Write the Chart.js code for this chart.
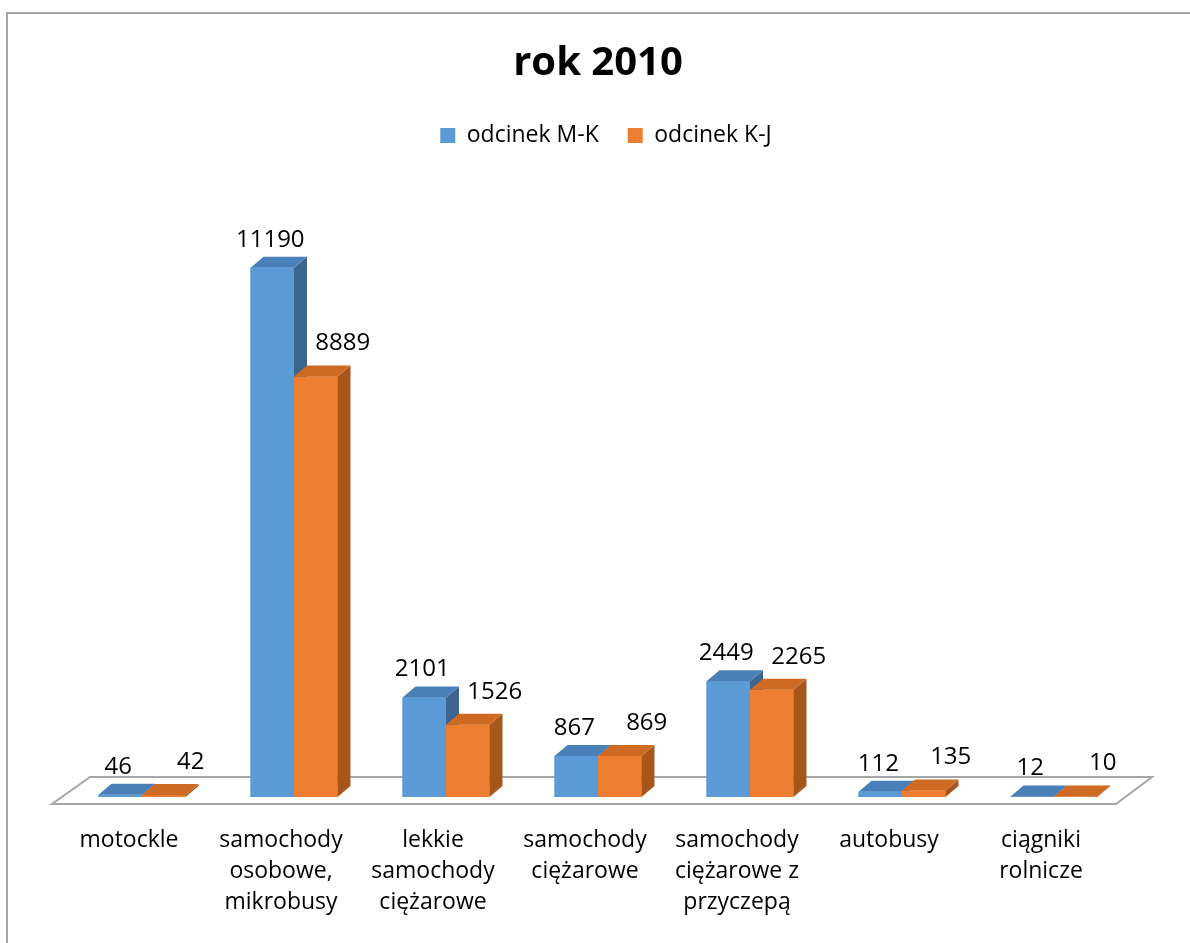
<!DOCTYPE html>
<html>
<head>
<meta charset="utf-8">
<script src="https://cdn.jsdelivr.net/npm/chart.js@4/dist/chart.umd.min.js"></script>
<style>
  html, body { margin: 0; padding: 0; background: #ffffff; }
  #wrap { width: 1190px; height: 943px; position: relative; }
</style>
</head>
<body>
<div id="wrap"><canvas id="c" width="1190" height="943"></canvas></div>
<script>
// ---- data ----
const categories = [
  ['motockle'],
  ['samochody', 'osobowe,', 'mikrobusy'],
  ['lekkie', 'samochody', 'ciężarowe'],
  ['samochody', 'ciężarowe'],
  ['samochody', 'ciężarowe z', 'przyczepą'],
  ['autobusy'],
  ['ciągniki', 'rolnicze']
];
const seriesNames = ['odcinek M-K', 'odcinek K-J'];
const valuesMK = [46, 11190, 2101, 867, 2449, 112, 12];
const valuesKJ = [42, 8889, 1526, 869, 2265, 135, 10];
const titleText = 'rok 2010';

// ---- styles ----
const FONT = '"Open Sans", "DejaVu Sans", sans-serif';
const frontColors = ['#5B9BD5', '#ED7D31'];
const topColors = ['#4A80BA', '#CF6A22'];
const sideColors = ['#3C6690', '#A9561C'];
const labelOffsets = [{dx: -2, dy: -28}, {dx: 27, dy: -33}];
const DEPTH_DX = 13, DEPTH_DY = -11;
const LEGEND_SHIFT = 8;

const threeD = {
  id: 'threeD',
  afterLayout(chart) {
    if (chart.legend) {
      chart.legend.left += LEGEND_SHIFT;
      chart.legend.right += LEGEND_SHIFT;
    }
  },
  beforeDraw(chart) {
    const ctx = chart.ctx;
    ctx.save();
    ctx.strokeStyle = '#A6A6A6';
    ctx.lineWidth = 2;
    ctx.beginPath();
    ctx.moveTo(7, 943);
    ctx.lineTo(7, 13);
    ctx.lineTo(1190, 13);
    ctx.stroke();
    ctx.restore();
  },
  beforeDatasetsDraw(chart) {
    const ctx = chart.ctx;
    const a = chart.chartArea;
    const y0 = chart.scales.y.getPixelForValue(0);
    ctx.save();
    ctx.strokeStyle = '#A6A6A6';
    ctx.fillStyle = '#ffffff';
    ctx.lineWidth = 2;
    ctx.beginPath();
    ctx.moveTo(a.left - 14, y0 + 7);
    ctx.lineTo(a.right - 14, y0 + 7);
    ctx.lineTo(a.right + 22, y0 - 20);
    ctx.lineTo(a.left + 24, y0 - 20);
    ctx.closePath();
    ctx.fill();
    ctx.stroke();
    ctx.restore();
  },
  afterDatasetsDraw(chart) {
    const ctx = chart.ctx;
    // redraw in series order: front (library element), then side and top faces
    chart.data.datasets.forEach((ds, i) => {
      const meta = chart.getDatasetMeta(i);
      meta.data.forEach(el => {
        el.draw(ctx, chart.chartArea);
        const p = el.getProps(['x', 'y', 'base', 'width'], true);
        const l = p.x - p.width / 2, r = p.x + p.width / 2;
        ctx.save();
        ctx.fillStyle = sideColors[i];
        ctx.beginPath();
        ctx.moveTo(r, p.y);
        ctx.lineTo(r + DEPTH_DX, p.y + DEPTH_DY);
        ctx.lineTo(r + DEPTH_DX, p.base + DEPTH_DY);
        ctx.lineTo(r, p.base);
        ctx.closePath();
        ctx.fill();
        ctx.fillStyle = topColors[i];
        ctx.beginPath();
        ctx.moveTo(l, p.y);
        ctx.lineTo(l + DEPTH_DX, p.y + DEPTH_DY);
        ctx.lineTo(r + DEPTH_DX, p.y + DEPTH_DY);
        ctx.lineTo(r, p.y);
        ctx.closePath();
        ctx.fill();
        ctx.restore();
      });
    });
    // data labels
    ctx.save();
    ctx.font = '24px ' + FONT;
    ctx.fillStyle = '#000000';
    ctx.textAlign = 'center';
    ctx.textBaseline = 'middle';
    chart.data.datasets.forEach((ds, i) => {
      const meta = chart.getDatasetMeta(i);
      meta.data.forEach((el, j) => {
        const p = el.getProps(['x', 'y'], true);
        ctx.fillText(String(ds.data[j]), p.x + labelOffsets[i].dx, p.y + labelOffsets[i].dy);
      });
    });
    ctx.restore();
  }
};

new Chart(document.getElementById('c'), {
  type: 'bar',
  data: {
    labels: categories,
    datasets: [
      { label: seriesNames[0], data: valuesMK, backgroundColor: frontColors[0], borderWidth: 0 },
      { label: seriesNames[1], data: valuesKJ, backgroundColor: frontColors[1], borderWidth: 0 }
    ]
  },
  options: {
    responsive: false,
    animation: false,
    events: [],
    categoryPercentage: 0.572,
    barPercentage: 1,
    layout: { padding: { left: 66, right: 60, top: 15, bottom: 0 } },
    plugins: {
      title: {
        display: true,
        text: titleText,
        color: '#000000',
        font: { family: FONT, size: 40, weight: 'bold' },
        padding: { top: 25, bottom: 7 }
      },
      legend: {
        display: true,
        position: 'top',
        labels: {
          color: '#000000',
          font: { family: FONT, size: 23 },
          boxWidth: 15,
          boxHeight: 15,
          padding: 29
        }
      },
      tooltip: { enabled: false }
    },
    scales: {
      x: {
        grid: { display: false },
        border: { display: false },
        ticks: {
          color: '#000000',
          font: { family: FONT, size: 23, lineHeight: 1.35 },
          padding: 20,
          labelOffset: -13,
          maxRotation: 0,
          autoSkip: false
        },
        afterFit(s) { s.height = 146; }
      },
      y: {
        display: false,
        min: 0,
        max: 13530
      }
    }
  },
  plugins: [threeD]
});
</script>
</body>
</html>
